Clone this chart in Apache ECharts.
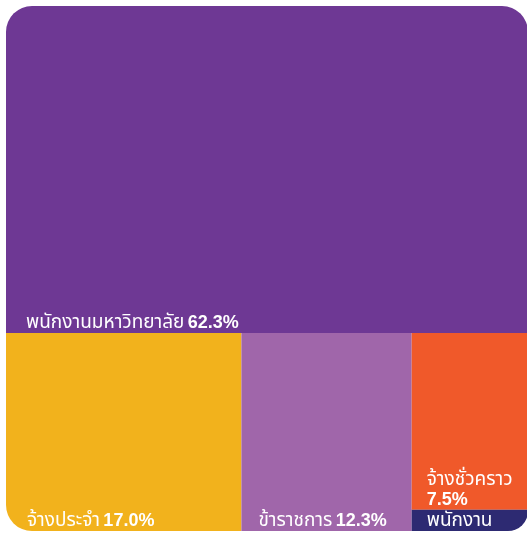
<!DOCTYPE html>
<html><head><meta charset="utf-8">
<script src="https://cdn.jsdelivr.net/npm/echarts@6/dist/echarts.min.js"></script>
<style>html,body{margin:0;padding:0;background:#fff}#c{width:527px;height:533px}</style>
</head><body><div id="c"></div>
<script>
// Data
const categories = ['พนักงานมหาวิทยาลัย', 'จ้างประจำ', 'ข้าราชการ', 'จ้างชั่วคราว', 'พนักงาน'];
const values = [62.3, 17.0, 12.3, 7.5, 0.9];
const percentLabels = ['62.3%', '17.0%', '12.3%', '7.5%', ''];

// Styles
const colors = ['#6E3894', '#F2B21C', '#A066AA', '#F0592A', '#2D2A72'];
const radii = [[26, 26, 0, 0], [0, 0, 0, 26], 0, 0, [0, 0, 20, 0]];
const leftPads = [20, 21, 17, 15, 15];
const FONT = '"Liberation Sans", "Noto Sans Thai", "Noto Sans Thai UI", sans-serif';
const NAME_SIZE = 19, PCT_SIZE = 18, LINE_H = 20, RIGHT_PAD = 6, BOTTOM_PAD = 0;

const measureCtx = document.createElement('canvas').getContext('2d');
function tw(text, font) { measureCtx.font = font; return measureCtx.measureText(text).width; }

const chart = echarts.init(document.getElementById('c'), null, {renderer: 'canvas'});
const data = categories.map((name, i) => ({
  name: name,
  value: values[i],
  pct: percentLabels[i],
  itemStyle: {color: colors[i], borderRadius: radii[i]}
}));

chart.setOption({
  animation: false,
  series: [{
    type: 'treemap',
    left: 6, top: 6, width: 522, height: 525,
    squareRatio: 1,
    roam: false,
    nodeClick: false,
    breadcrumb: {show: false},
    itemStyle: {borderWidth: 0, gapWidth: 0},
    emphasis: {disabled: true},
    label: {
      show: true,
      position: 'insideTopLeft',
      distance: 0,
      padding: 0,
      color: '#fff',
      overflow: 'none',
      formatter: function (p) {
        const i = p.dataIndex - 1;
        const nameTok = '{n|' + p.name + '}';
        if (!p.data.pct) return nameTok;
        const layout = chart.getModel().getSeriesByIndex(0).getData().getItemLayout(p.dataIndex);
        const avail = layout ? layout.width - leftPads[i] - RIGHT_PAD : Infinity;
        const total = tw(p.name + ' ', NAME_SIZE + 'px ' + FONT) + tw(p.data.pct, 'bold ' + PCT_SIZE + 'px ' + FONT);
        return nameTok + (total > avail ? '\n' : ' ') + '{v|' + p.data.pct + '}';
      },
      rich: {
        n: {color: '#fff', fontSize: NAME_SIZE, fontFamily: FONT, lineHeight: LINE_H},
        v: {color: '#fff', fontSize: PCT_SIZE, fontWeight: 'bold', fontFamily: FONT, lineHeight: LINE_H}
      }
    },
    labelLayout: function (p) {
      const i = p.dataIndex - 1;
      if (i < 0 || i >= categories.length) return {};
      const lines = ((p.text || '').match(/\n/g) || []).length + 1;
      return {
        x: p.rect.x + leftPads[i],
        y: p.rect.y + p.rect.height - lines * LINE_H - BOTTOM_PAD,
        align: 'left',
        verticalAlign: 'top'
      };
    },
    data: data
  }]
});
</script>
</body></html>
